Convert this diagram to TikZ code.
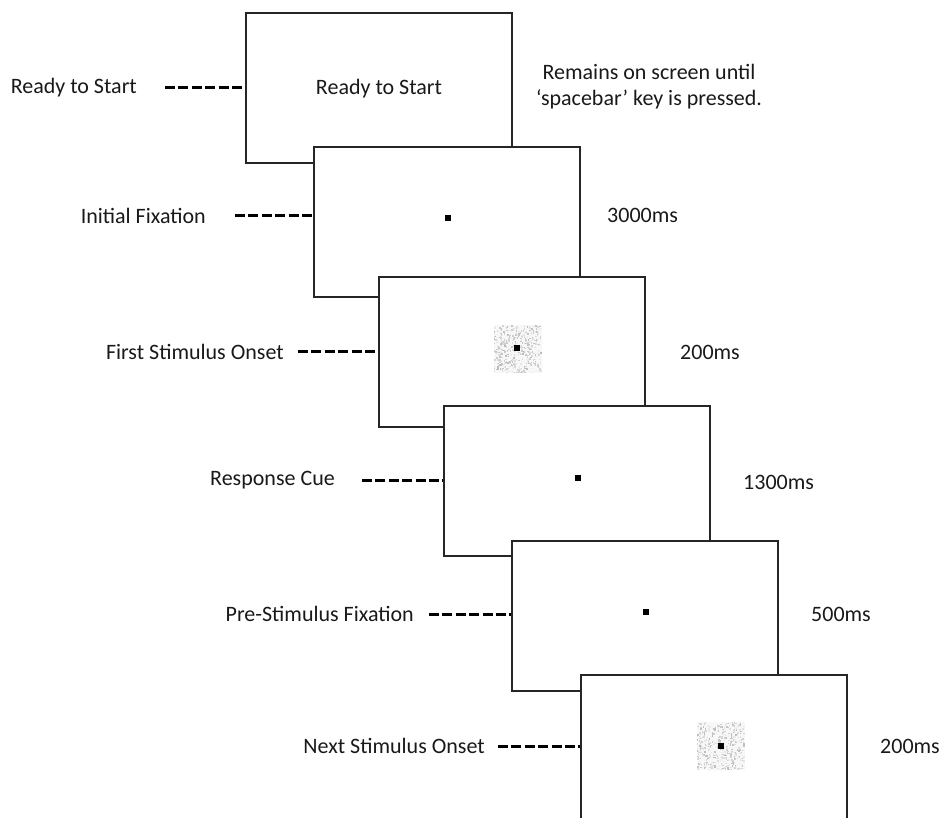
\documentclass[tikz,border=0pt]{standalone}
\usepackage{fontspec}
\setmainfont{Carlito}
\begin{document}
\begin{tikzpicture}[x=1pt,y=-1pt,
  screen/.style={draw=black!85, line width=2pt, fill=white, rectangle,
    minimum width=266pt, minimum height=150pt, inner sep=0pt, anchor=north west},
  lbl/.style={font=\fontsize{22}{26}\selectfont, inner sep=0pt, text=black!90},
  dashline/.style={line width=3pt, dash pattern=on 10pt off 3.4pt},
  fix/.style={fill=black, minimum size=6pt, inner sep=0pt, rectangle}]
\useasboundingbox (0,0) rectangle (943,818);
\clip (0,0) rectangle (943,818);
\pgfmathsetseed{7}
% noise patch drawn around a point
\newcommand{\noisepatch}[2]{%
  \fill[black!3] (#1-24,#2-24) rectangle (#1+24,#2+24);
  \foreach \k in {1,...,380}{%
    \pgfmathsetmacro{\nx}{#1+rnd*47-24}%
    \pgfmathsetmacro{\ny}{#2+rnd*47-24}%
    \pgfmathsetmacro{\ng}{7+rnd*20}%
    \fill[black!\ng] (\nx,\ny) rectangle ++(1.5,1.5);
  }}
% screens, later ones lie on top of earlier ones
\node[screen] (b1) at (245,12.5) {};
\node[lbl] at (b1.center) {Ready to Start};
\node[screen] (b2) at (313,146) {};
\node[screen] (b3) at (378,276) {};
\node[screen] (b4) at (443,405) {};
\node[screen] (b5) at (511,540) {};
\node[screen] (b6) at (580,674) {};
% fixation points and stimulus patches
\node[fix] (f2) at (448,218) {};
\noisepatch{517.5}{349}
\node[fix] (f3) at (517,348) {};
\node[fix] (f4) at (578,478) {};
\node[fix] (f5) at (646,612) {};
\noisepatch{720.5}{746}
\node[fix] (f6) at (721,746) {};
% left labels with dashed leaders
\node[lbl, anchor=east] (l1) at (137,88) {Ready to Start};
\node[lbl, anchor=east] (l2) at (206,216) {Initial Fixation};
\node[lbl, anchor=east] (l3) at (284,352) {First Stimulus Onset};
\node[lbl, anchor=east] (l4) at (335,480) {Response Cue};
\node[lbl, anchor=east] (l5) at (414,614) {Pre-Stimulus Fixation};
\node[lbl, anchor=east] (l6) at (485,746) {Next Stimulus Onset};
\coordinate (d1) at (165,88);
\coordinate (d2) at (235,216);
\coordinate (d3) at (298,352);
\coordinate (d4) at (362,480);
\coordinate (d5) at (429,614);
\coordinate (d6) at (498,746);
\draw[dashline] (d1) -- (d1 -| b1.west);
\draw[dashline] (d2) -- (d2 -| b2.west);
\draw[dashline] (d3) -- (d3 -| b3.west);
\draw[dashline] (d4) -- (d4 -| b4.west);
\draw[dashline] (d5) -- (d5 -| b5.west);
\draw[dashline] (d6) -- (d6 -| b6.west);
% durations
\node[lbl, align=center] (r1) at (649,87) {Remains on screen until\\\textquoteleft spacebar\textquoteright{} key is pressed.};
\node[lbl, anchor=west] (r2) at (607,215) {3000ms};
\node[lbl, anchor=west] (r3) at (680,352) {200ms};
\node[lbl, anchor=west] (r4) at (743,482) {1300ms};
\node[lbl, anchor=west] (r5) at (811,614) {500ms};
\node[lbl, anchor=west] (r6) at (880,746) {200ms};
\end{tikzpicture}
\end{document}
